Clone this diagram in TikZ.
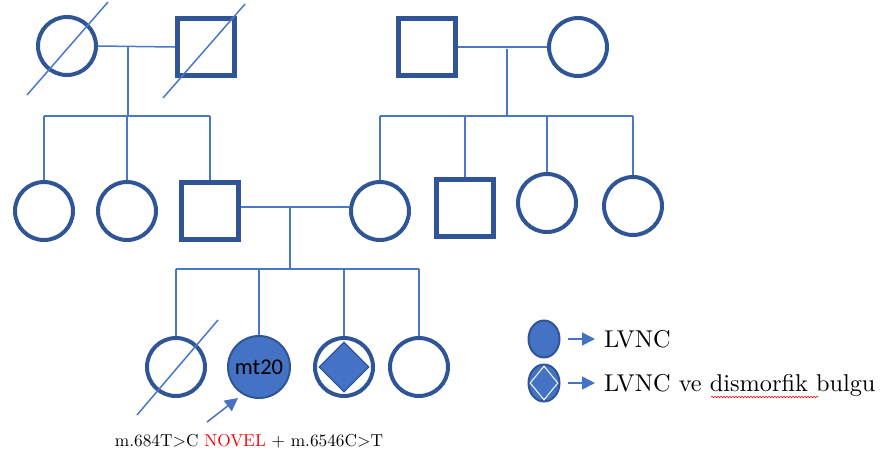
\documentclass[tikz,border=0pt]{standalone}
\usepackage{fontspec}
\setmainfont{lmroman10}[Extension=.otf,UprightFont=*-regular,BoldFont=*-bold,ItalicFont=*-italic]
\newfontfamily\carlito{Carlito}
\usetikzlibrary{arrows.meta,shapes.geometric,decorations.pathmorphing,calc}
\definecolor{dkblue}{HTML}{2F5597}
\definecolor{mdblue}{HTML}{4472C4}
\definecolor{ltblue}{HTML}{4A78C8}
\begin{document}
\begin{tikzpicture}[x=1pt,y=-1pt,
  fem/.style={circle,draw=dkblue,line width=4pt,minimum size=58pt,inner sep=0pt},
  mal/.style={rectangle,draw=dkblue,line width=5pt,minimum size=57pt,inner sep=0pt},
  aff/.style={circle,draw=dkblue,fill=mdblue,line width=2pt,minimum size=62pt,inner sep=0pt},
  dia/.style={diamond,draw=dkblue,fill=mdblue,line width=1.2pt,minimum width=50pt,minimum height=50pt,inner sep=0pt},
  legel/.style={ellipse,draw=dkblue,fill=mdblue,line width=2pt,minimum width=31pt,minimum height=37pt,inner sep=0pt},
  ln/.style={draw=ltblue,line width=1.5pt},
  arr/.style={draw=mdblue,line width=1.5pt,-{Triangle[length=13pt,width=13pt]}},
  lab/.style={font=\fontsize{24.3}{27}\selectfont,inner sep=0pt}
]
\useasboundingbox (0,0) rectangle (886,459);

% Generation 1
\node[fem] (a1) at (67,46) {};
\node[mal] (a2) at (206,47) {};
\node[mal] (a3) at (427,47) {};
\node[fem] (a4) at (578,47) {};
\draw[ln] ($(a1)+(-40,49)$) -- ($(a1)+(41,-44)$);
\draw[ln] ($(a2)+(-43,51)$) -- ($(a2)+(39,-43)$);
\draw[ln] (a1.east) -- (a2.west);
\draw[ln] (a3.east) -- (a4.west);
\coordinate (m1) at (128,46);
\coordinate (s1) at (128,116);
\coordinate (m2) at (507,49);
\coordinate (s2) at (507,116);
\draw[ln] (m1) -- (s1);
\draw[ln] (m2) -- (s2);

% Generation 2
\node[fem] (b1) at (44,211) {};
\node[fem] (b2) at (127,211) {};
\node[mal] (b3) at (210,211) {};
\node[fem] (b4) at (380,211) {};
\node[mal] (b5) at (465,208) {};
\node[fem] (b6) at (547,203) {};
\node[fem] (b7) at (633,206) {};
\draw[ln] (b1.north |- s1) -- (b3.north |- s1);
\draw[ln] (b4.north |- s2) -- (b7.north |- s2);
\foreach \n in {b1,b2,b3,b4,b5,b6,b7}{
  \draw[ln] (\n.north |- s1) -- (\n.north);
}
\draw[ln] (b3.east |- 0,207) -- (b4.west |- 0,207);
\coordinate (m3) at (290,207);
\coordinate (s3) at (290,269);
\draw[ln] (m3) -- (s3);

% Generation 3
\node[fem] (c1) at (176,367) {};
\node[aff] (c2) at (259,367) {\carlito\fontsize{22.5}{24}\selectfont mt20};
\node[fem] (c3) at (344,367) {};
\node[dia] (c3d) at (c3) {};
\node[fem] (c4) at (419,367) {};
\draw[ln] ($(c1)+(-39,48)$) -- ($(c1)+(42,-47)$);
\draw[ln] (c1.north |- s3) -- (c4.north |- s3);
\foreach \n in {c1,c2,c3,c4}{
  \draw[ln] (\n.north |- s3) -- (\n.north);
}
\coordinate (p1) at (207,422);
\coordinate (p2) at (238,398);
\draw[arr] (p1) -- (p2);
\node[anchor=base,inner sep=0pt] (mut) at (249,446) {\fontsize{17.3}{20}\selectfont m.684T>C \textcolor{red}{NOVEL} + m.6546C>T};

% Legend
\node[legel] (l1) at (544,339) {};
\node[legel] (l2) at (544,383) {};
\node[diamond,draw=white,fill=mdblue,line width=1pt,minimum width=28pt,minimum height=34pt,inner sep=0pt] (l2d) at (l2) {};
\node[lab,anchor=base west] (t1) at (604,347) {LVNC};
\node[lab,anchor=base west] (t2) at (604,391) {LVNC ve dismorfik bulgu};
\draw[arr,shorten <=7pt,shorten >=9pt] (l1.east) -- (l1.east -| t1.west);
\draw[arr,shorten <=7pt,shorten >=9pt] (l2.east) -- (l2.east -| t2.west);
\draw[red,line width=0.6pt,decorate,decoration={snake,amplitude=0.7pt,segment length=3pt}] (711,397) -- (818,397);
\end{tikzpicture}
\end{document}
